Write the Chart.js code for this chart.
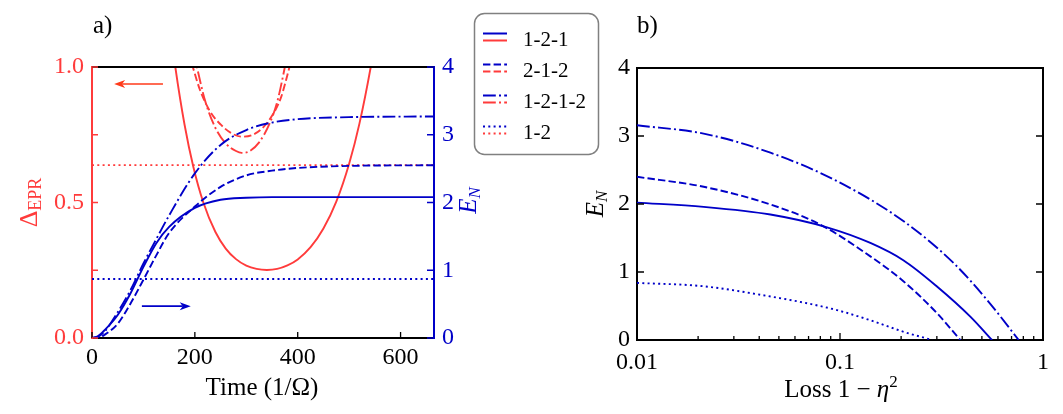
<!DOCTYPE html>
<html>
<head>
<meta charset="utf-8">
<script src="https://cdn.jsdelivr.net/npm/chart.js@4.4.0/dist/chart.umd.min.js"></script>
<style>
  body { margin: 0; background: #fff; }
  #pagina { position: relative; width: 1063px; height: 414px; overflow: hidden; font-family: "Liberation Serif", serif; }
  #canvasA { position: absolute; left: 0; top: 0; }
  #canvasB { position: absolute; left: 560px; top: 0; }
  #anotaciones { position: absolute; left: 0; top: 0; pointer-events: none; }
  #anotaciones text { font-family: "Liberation Serif", serif; fill: #000; }
</style>
</head>
<body>
<div id="pagina">
  <canvas id="canvasA" width="480" height="414"></canvas>
  <canvas id="canvasB" width="503" height="414"></canvas>
  <svg id="anotaciones" width="1063" height="414"></svg>
</div>
<script>
// DATOS PANEL a) (tiempo en 1/Omega)
const tiempo = [0, 12, 25, 50, 75, 100, 125, 150, 200, 250, 300, 350, 400, 500, 665];
const en_121 = [0, 0.03, 0.12, 0.34, 0.66, 1.05, 1.4, 1.64, 1.92, 2.04, 2.07, 2.08, 2.08, 2.08, 2.08];
const en_212 = [0, 0.0, 0.05, 0.21, 0.51, 0.86, 1.22, 1.55, 1.94, 2.23, 2.4, 2.47, 2.51, 2.54, 2.55];
const en_1212 = [0, 0.02, 0.1, 0.38, 0.71, 1.1, 1.46, 1.81, 2.43, 2.85, 3.07, 3.18, 3.23, 3.26, 3.27];
const tiempo_12 = [0, 665];
const en_12 = [0.87, 0.87];

const t_epr_121 = [150, 162, 180, 197, 216, 240, 260, 280, 300, 320, 340, 360, 380, 400, 425, 450, 475, 500, 520, 542, 555];
const epr_121 = [1.175, 1.0, 0.787, 0.632, 0.503, 0.391, 0.33, 0.291, 0.267, 0.255, 0.251, 0.255, 0.268, 0.29, 0.335, 0.404, 0.503, 0.643, 0.791, 1.0, 1.148];
const t_epr_212 = [188, 196, 210, 230, 250, 270, 291, 310, 330, 350, 367, 384, 392];
const epr_212 = [1.05, 1.0, 0.915, 0.835, 0.788, 0.757, 0.743, 0.748, 0.772, 0.82, 0.885, 1.0, 1.06];
const t_epr_1212 = [197, 204, 220, 240, 260, 280, 291, 305, 325, 345, 360, 375, 382];
const epr_1212 = [1.06, 1.0, 0.875, 0.775, 0.718, 0.69, 0.683, 0.688, 0.722, 0.79, 0.87, 1.0, 1.07];
const epr_12 = [0.638, 0.638];

const ticksTiempo = [0, 200, 400, 600];
const ticksEpr = [0, 0.25, 0.5, 0.75, 1];
const ticksEn = [0, 1, 2, 3, 4];

// DATOS PANEL b) (perdida 1 - eta^2)
const perdida_121 = [0.01, 0.0213, 0.0454, 0.0863, 0.1411, 0.2059, 0.3004, 0.4385, 0.5608];
const enb_121 = [2.02, 1.958, 1.845, 1.657, 1.427, 1.17, 0.787, 0.344, 0];
const perdida_212 = [0.01, 0.0213, 0.0454, 0.08, 0.1411, 0.2059, 0.3004, 0.3917];
const enb_212 = [2.4, 2.253, 1.993, 1.697, 1.23, 0.861, 0.394, 0];
const perdida_1212 = [0.01, 0.0213, 0.0454, 0.0966, 0.2059, 0.363, 0.53, 0.759];
const enb_1212 = [3.158, 3.035, 2.755, 2.337, 1.746, 1.131, 0.59, 0];
const perdida_12 = [0.01, 0.0213, 0.0454, 0.0663, 0.0966, 0.1411, 0.2059, 0.285];
const enb_12 = [0.84, 0.79, 0.64, 0.55, 0.44, 0.29, 0.12, 0];

const ticksPerdida = [0.01, 0.02, 0.03, 0.04, 0.05, 0.06, 0.07, 0.08, 0.09, 0.1, 0.2, 0.3, 0.4, 0.5, 0.6, 0.7, 0.8, 0.9, 1];

const etiquetasLeyenda = ["1-2-1", "2-1-2", "1-2-1-2", "1-2"];

// ESTILOS
const azul = "#0000c8";
const rojo = "#ff3b3b";
const rojoFlecha = "#ff3a1a";
const trazos = [[], [7.4, 3.2], [12.8, 3.2, 2, 3.2], [2, 3.3]];
const fuente = "Liberation Serif";

Chart.defaults.font.family = fuente;
Chart.defaults.font.size = 24;
Chart.defaults.color = "#000";

function puntos(xs, ys) {
  return xs.map(function (x, i) {
    return { x: x, y: ys[i] };
  });
}

function serie(etiqueta, xs, ys, color, trazo, eje) {
  return {
    label: etiqueta,
    data: puntos(xs, ys),
    borderColor: color,
    borderWidth: 1.9,
    borderDash: trazo,
    pointRadius: 0,
    cubicInterpolationMode: "monotone",
    yAxisID: eje,
    fill: false,
  };
}

function fijarTicks(lista) {
  return function (s) {
    s.ticks = lista.map(function (v) {
      return { value: v };
    });
  };
}

function fijarAncho(w) {
  return function (s) {
    s.width = w;
    s.paddingTop = 0;
    s.paddingBottom = 0;
  };
}

function fijarAlto(h) {
  return function (s) {
    s.height = h;
    s.paddingLeft = 0;
    s.paddingRight = 0;
  };
}

function esDecada(v) {
  let l = Math.log10(v);
  return Math.abs(l - Math.round(l)) < 1e-9;
}

// texto con subindices, centrado en (x, y) sobre la linea base
function textoCompuesto(ctx, partes, x, y, angulo, color) {
  ctx.save();
  ctx.translate(x, y);
  ctx.rotate(angulo);
  ctx.fillStyle = color;
  ctx.textBaseline = "alphabetic";
  let ancho = 0;
  partes.forEach(function (p) {
    ctx.font = p.f;
    ancho += ctx.measureText(p.t).width;
  });
  let cx = -ancho / 2;
  partes.forEach(function (p) {
    ctx.font = p.f;
    ctx.fillText(p.t, cx, p.dy || 0);
    cx += ctx.measureText(p.t).width;
  });
  ctx.restore();
}

// MARCAS HACIA ADENTRO, BORDE SUPERIOR, FLECHAS Y TITULOS
const decorado = {
  id: "decorado",
  afterDatasetsDraw(chart, args, opts) {
    const ctx = chart.ctx;
    const a = chart.chartArea;
    ctx.save();
    ctx.strokeStyle = "#000";
    ctx.lineWidth = 2;
    ctx.beginPath();
    ctx.moveTo(a.left, a.top);
    ctx.lineTo(a.right, a.top);
    ctx.stroke();

    opts.marcas.forEach(function (m) {
      const s = chart.scales[m.eje];
      ctx.strokeStyle = m.color;
      ctx.lineWidth = 1.3;
      ctx.beginPath();
      s.ticks.forEach(function (tk) {
        const p = s.getPixelForValue(tk.value);
        const l = !m.menor || esDecada(tk.value) ? m.largo : m.menor;
        if (m.lado === "abajo") {
          ctx.moveTo(p, a.bottom);
          ctx.lineTo(p, a.bottom - l);
        } else if (m.lado === "izq") {
          ctx.moveTo(a.left, p);
          ctx.lineTo(a.left + l, p);
        } else {
          ctx.moveTo(a.right, p);
          ctx.lineTo(a.right - l, p);
        }
      });
      ctx.stroke();
    });

    (opts.flechas || []).forEach(function (f) {
      const sx = chart.scales.x;
      const sy = chart.scales[f.eje];
      const x1 = sx.getPixelForValue(f.desde);
      const x2 = sx.getPixelForValue(f.hasta);
      const y = sy.getPixelForValue(f.y);
      const dir = x2 > x1 ? 1 : -1;
      ctx.strokeStyle = f.color;
      ctx.fillStyle = f.color;
      ctx.lineWidth = 1.6;
      ctx.beginPath();
      ctx.moveTo(x1, y);
      ctx.lineTo(x2 - dir * 8, y);
      ctx.stroke();
      ctx.beginPath();
      ctx.moveTo(x2, y);
      ctx.lineTo(x2 - dir * 11, y - 4);
      ctx.lineTo(x2 - dir * 8, y);
      ctx.lineTo(x2 - dir * 11, y + 4);
      ctx.closePath();
      ctx.fill();
    });

    opts.titulos(ctx, a);
    ctx.restore();
  },
};

// PANEL a)
const chartA = new Chart(document.getElementById("canvasA"), {
  type: "line",
  data: {
    datasets: [
      serie("1-2-1", tiempo, en_121, azul, trazos[0], "yR"),
      serie("2-1-2", tiempo, en_212, azul, trazos[1], "yR"),
      serie("1-2-1-2", tiempo, en_1212, azul, trazos[2], "yR"),
      serie("1-2", tiempo_12, en_12, azul, trazos[3], "yR"),
      serie("1-2-1", t_epr_121, epr_121, rojo, trazos[0], "yL"),
      serie("2-1-2", t_epr_212, epr_212, rojo, trazos[1], "yL"),
      serie("1-2-1-2", t_epr_1212, epr_1212, rojo, trazos[2], "yL"),
      serie("1-2", tiempo_12, epr_12, rojo, trazos[3], "yL"),
    ],
  },
  options: {
    responsive: false,
    animation: false,
    events: [],
    layout: { padding: { top: 67, left: 0, right: 0, bottom: 0 } },
    plugins: {
      legend: { display: false },
      tooltip: { enabled: false },
      decorado: {
        marcas: [
          { eje: "x", lado: "abajo", largo: 6, color: "#000" },
          { eje: "yL", lado: "izq", largo: 6, color: rojo },
          { eje: "yR", lado: "der", largo: 7, color: azul },
        ],
        flechas: [
          { eje: "yL", desde: 138, hasta: 43, y: 0.937, color: rojoFlecha },
          { eje: "yR", desde: 97, hasta: 192, y: 0.47, color: azul },
        ],
        titulos: function (ctx, a) {
          const cy = (a.top + a.bottom) / 2;
          textoCompuesto(ctx, [{ t: "Time (1/Ω)", f: "25px " + fuente }], (a.left + a.right) / 2 - 1, 395, 0, "#000");
          textoCompuesto(ctx, [
            { t: "Δ", f: "26px " + fuente },
            { t: "EPR", f: "18px " + fuente, dy: 4 },
          ], 37, cy, -Math.PI / 2, rojo);
          textoCompuesto(ctx, [
            { t: "E", f: "italic 25px " + fuente },
            { t: "N", f: "italic 17px " + fuente, dy: 4 },
          ], 476, cy - 2, -Math.PI / 2, azul);
        },
      },
    },
    scales: {
      x: {
        type: "linear",
        min: 0,
        max: 665,
        afterBuildTicks: fijarTicks(ticksTiempo),
        afterFit: fijarAlto(414 - 338),
        grid: { display: false, drawTicks: false },
        border: { color: "#000", width: 2 },
        ticks: { padding: 5, autoSkip: false, maxRotation: 0 },
      },
      yL: {
        type: "linear",
        position: "left",
        min: 0,
        max: 1,
        afterBuildTicks: fijarTicks(ticksEpr),
        afterFit: fijarAncho(92),
        grid: { display: false, drawTicks: false },
        border: { color: rojo, width: 2 },
        ticks: {
          color: rojo,
          padding: 8,
          autoSkip: false,
          callback: function (v) {
            return Math.abs(v * 2 - Math.round(v * 2)) < 1e-9 ? v.toFixed(1) : "";
          },
        },
      },
      yR: {
        type: "linear",
        position: "right",
        min: 0,
        max: 4,
        afterBuildTicks: fijarTicks(ticksEn),
        afterFit: fijarAncho(480 - 434),
        grid: { display: false, drawTicks: false },
        border: { color: azul, width: 2 },
        ticks: { color: azul, padding: 8, autoSkip: false },
      },
    },
  },
  plugins: [decorado],
});

// PANEL b)
const chartB = new Chart(document.getElementById("canvasB"), {
  type: "line",
  data: {
    datasets: [
      serie("1-2-1", perdida_121, enb_121, azul, trazos[0], "y"),
      serie("2-1-2", perdida_212, enb_212, azul, trazos[1], "y"),
      serie("1-2-1-2", perdida_1212, enb_1212, azul, trazos[2], "y"),
      serie("1-2", perdida_12, enb_12, azul, trazos[3], "y"),
    ],
  },
  options: {
    responsive: false,
    animation: false,
    events: [],
    layout: { padding: { top: 68, left: 0, right: 0, bottom: 0 } },
    plugins: {
      legend: { display: false },
      tooltip: { enabled: false },
      decorado: {
        marcas: [
          { eje: "x", lado: "abajo", largo: 7, menor: 4, color: "#000" },
          { eje: "y", lado: "izq", largo: 7, color: "#000" },
          { eje: "y2", lado: "der", largo: 7, color: "#000" },
        ],
        titulos: function (ctx, a) {
          const cy = (a.top + a.bottom) / 2;
          textoCompuesto(ctx, [
            { t: "Loss 1 − ", f: "25px " + fuente },
            { t: "η", f: "italic 25px " + fuente },
            { t: "2", f: "17px " + fuente, dy: -10 },
          ], (a.left + a.right) / 2 + 1, 397, 0, "#000");
          textoCompuesto(ctx, [
            { t: "E", f: "italic 25px " + fuente },
            { t: "N", f: "italic 17px " + fuente, dy: 4 },
          ], 43, cy, -Math.PI / 2, "#000");
        },
      },
    },
    scales: {
      x: {
        type: "logarithmic",
        min: 0.01,
        max: 1,
        afterBuildTicks: fijarTicks(ticksPerdida),
        afterFit: fijarAlto(414 - 340),
        grid: { display: false, drawTicks: false },
        border: { color: "#000", width: 2 },
        ticks: {
          padding: 8,
          autoSkip: false,
          maxRotation: 0,
          callback: function (v) {
            return esDecada(v) ? String(v) : "";
          },
        },
      },
      y: {
        type: "linear",
        position: "left",
        min: 0,
        max: 4,
        afterBuildTicks: fijarTicks(ticksEn),
        afterFit: fijarAncho(637 - 560),
        grid: { display: false, drawTicks: false },
        border: { color: "#000", width: 2 },
        ticks: { padding: 7, autoSkip: false },
      },
      y2: {
        type: "linear",
        position: "right",
        min: 0,
        max: 4,
        afterBuildTicks: fijarTicks(ticksEn),
        afterFit: fijarAncho(1063 - 1043),
        grid: { display: false, drawTicks: false },
        border: { color: "#000", width: 2 },
        ticks: { display: false },
      },
    },
  },
  plugins: [decorado],
});

// LEYENDA Y ETIQUETAS DE PANEL
function armarAnotaciones() {
  let svg = "";
  svg += '<text x="93" y="33" font-size="25">a)</text>';
  svg += '<text x="637" y="33" font-size="25">b)</text>';
  svg += '<rect x="474.5" y="13.5" width="124" height="141" rx="10" ry="10" fill="#fff" stroke="#808080" stroke-width="1.5"/>';
  etiquetasLeyenda.forEach(function (et, i) {
    const base = 45.5 + 31 * i;
    const dash = trazos[i].length ? ' stroke-dasharray="' + trazos[i].join(",") + '"' : "";
    svg += '<line x1="483" x2="507" y1="' + (base - 12) + '" y2="' + (base - 12) + '" stroke="' + azul + '" stroke-width="2"' + dash + "/>";
    svg += '<line x1="483" x2="507" y1="' + (base - 5) + '" y2="' + (base - 5) + '" stroke="' + rojo + '" stroke-width="2"' + dash + "/>";
    svg += '<text x="523" y="' + base + '" font-size="21">' + et + "</text>";
  });
  document.getElementById("anotaciones").innerHTML = svg;
}
armarAnotaciones();
</script>
</body>
</html>
